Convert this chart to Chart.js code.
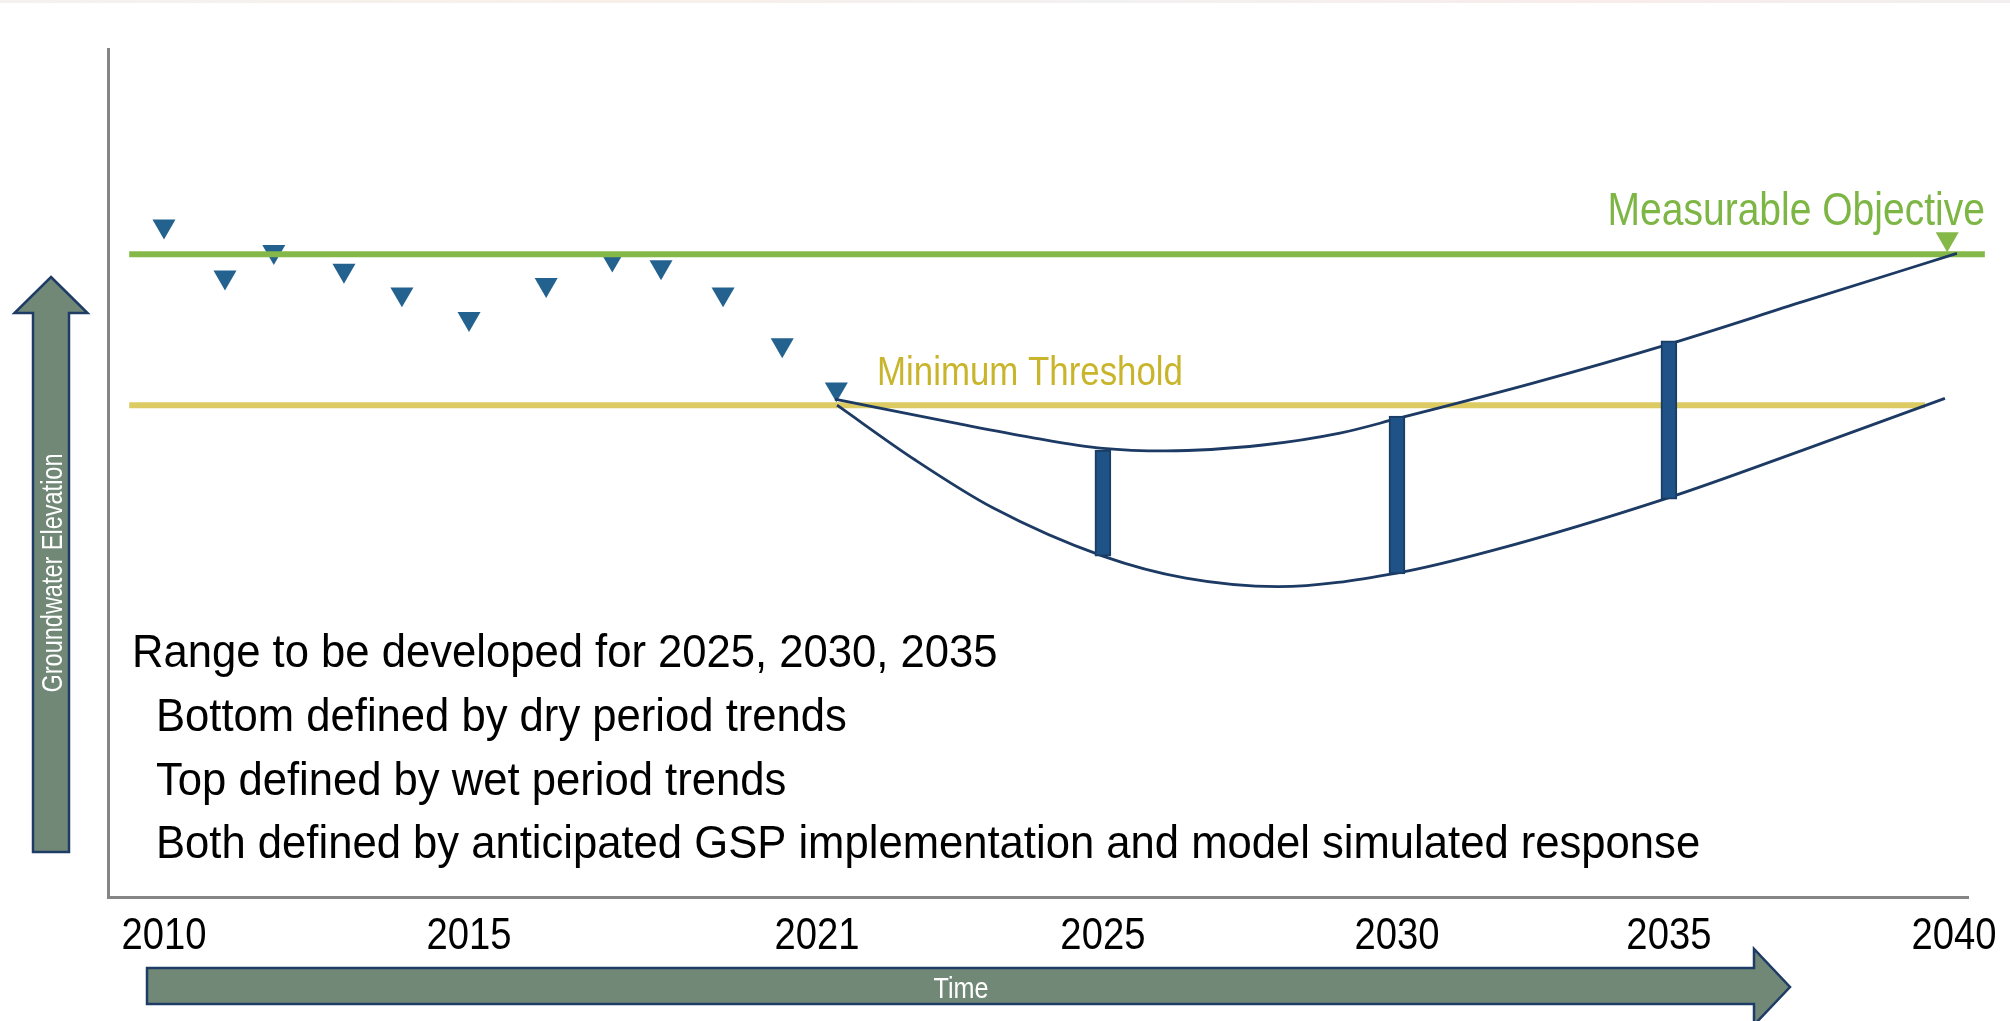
<!DOCTYPE html>
<html>
<head>
<meta charset="utf-8">
<title>Groundwater Elevation - Measurable Objective and Minimum Threshold</title>
<script src="https://cdn.jsdelivr.net/npm/chart.js@4.4.1/dist/chart.umd.min.js"></script>
<style>
  html, body { margin: 0; padding: 0; background: #fff; }
  body { width: 2010px; height: 1021px; overflow: hidden; position: relative; }
  #band { position: absolute; left: 0; top: 0; width: 2010px; height: 3px;
          background: linear-gradient(90deg, #f3f2f0, #f8efe9 30%, #f2f1f1 55%, #f8ecea 80%, #f1efef); }
  #wrap { position: absolute; left: 0; top: 0; width: 2010px; height: 1021px; }
</style>
</head>
<body>
<div id="wrap"><canvas id="chart"></canvas></div>
<div id="band"></div>
<script>
// x axis: tick years and where each sits along the time axis (fraction of plot width)
const tickYears = [2010, 2015, 2021, 2025, 2030, 2035, 2040];
const tickFrac  = [0.0301, 0.1941, 0.3812, 0.5349, 0.6930, 0.8392, 0.9925];

// observed groundwater levels (inverted triangles), 2010-2021
const obsYears  = [2010.0, 2011.0, 2011.8, 2012.95, 2013.9, 2015.0, 2016.33, 2017.47, 2018.31, 2019.38, 2020.4, 2021.27];
const obsLevels = [79.1, 73.1, 76.1, 73.9, 71.1, 68.2, 72.2, 75.2, 74.3, 71.1, 65.1, 59.9];

// top of range (wet period trend)
const wetYears  = [2021.25, 2022.92, 2023.99, 2025.0, 2026.07, 2027.72, 2029.03, 2030.0, 2032.5, 2035.0, 2037.35, 2040.05];
const wetLevels = [58.7, 55.9, 54.2, 52.9, 52.6, 53.3, 54.7, 56.4, 60.6, 65.2, 70.2, 75.9];

// bottom of range (dry period trend)
const dryYears  = [2021.28, 2022.38, 2023.46, 2025.0, 2026.41, 2027.98, 2030.0, 2031.78, 2035.0, 2037.35, 2039.84];
const dryLevels = [58.0, 51.5, 45.9, 40.2, 37.6, 36.6, 38.2, 40.9, 47.1, 52.7, 58.8];

// interim ranges
const rangeYears = [2025, 2030, 2035];
const rangeLow   = [40.2, 38.1, 46.9];
const rangeHigh  = [52.7, 56.7, 65.6];

// thresholds
const objectiveLevel = 75.8;
const objectiveSpan  = [2009.43, 2040.54];
const thresholdLevel = 58.0;
const thresholdSpan  = [2009.43, 2039.49];
const targetYear  = [2039.88];
const targetLevel = [77.6];

const notes = [
  'Range to be developed for 2025, 2030, 2035',
  'Bottom defined by dry period trends',
  'Top defined by wet period trends',
  'Both defined by anticipated GSP implementation and model simulated response'
];

const FONT = "'Liberation Sans', Arial, sans-serif";
const NAVY = '#1c3a63';
const TICK_SQUASH = 0.85;

// piecewise time axis: year -> fraction of plot width
function yearToFrac(v) {
  let i = 0;
  while (i < tickYears.length - 2 && v > tickYears[i + 1]) i++;
  const t = (v - tickYears[i]) / (tickYears[i + 1] - tickYears[i]);
  return tickFrac[i] + t * (tickFrac[i + 1] - tickFrac[i]);
}
function fracToYear(f) {
  let i = 0;
  while (i < tickFrac.length - 2 && f > tickFrac[i + 1]) i++;
  const t = (f - tickFrac[i]) / (tickFrac[i + 1] - tickFrac[i]);
  return tickYears[i] + t * (tickYears[i + 1] - tickYears[i]);
}

class TimelineScale extends Chart.LinearScale {
  getPixelForValue(value) {
    if (value === null || value === undefined || isNaN(value)) return NaN;
    return this.getPixelForDecimal(yearToFrac(value));
  }
  getValueForPixel(pixel) {
    return fracToYear(this.getDecimalForPixel(pixel));
  }
  // same labels as the base scale, drawn in a condensed face
  drawLabels(chartArea) {
    if (!this.options.ticks.display) return;
    const ctx = this.ctx;
    for (const item of this.getLabelItems(chartArea)) {
      const o = item.options;
      ctx.save();
      ctx.translate(o.translation[0], o.translation[1]);
      if (o.rotation) ctx.rotate(o.rotation);
      ctx.scale(TICK_SQUASH, 1);
      ctx.font = item.font.string;
      ctx.fillStyle = o.color;
      ctx.textAlign = o.textAlign;
      ctx.textBaseline = o.textBaseline;
      ctx.fillText(item.label, 0, item.textOffset);
      ctx.restore();
    }
  }
}
TimelineScale.id = 'timeline';
TimelineScale.defaults = Chart.LinearScale.defaults;
Chart.register(TimelineScale);

const pts = (xs, ys) => xs.map((x, i) => ({ x: x, y: ys[i] }));
const flat = (span, level) => span.map(x => ({ x: x, y: level }));

function squashText(ctx, text, x, y, size, squash, align, color) {
  ctx.save();
  ctx.translate(x, y);
  ctx.scale(squash, 1);
  ctx.font = size + 'px ' + FONT;
  ctx.fillStyle = color;
  ctx.textAlign = align;
  ctx.textBaseline = 'alphabetic';
  ctx.fillText(text, 0, 0);
  ctx.restore();
}

function arrow(ctx, p) {
  ctx.beginPath();
  p.forEach(([px, py], i) => i ? ctx.lineTo(px, py) : ctx.moveTo(px, py));
  ctx.closePath();
  ctx.fillStyle = '#718877';
  ctx.fill();
  ctx.lineWidth = 2.5;
  ctx.strokeStyle = '#1f3c66';
  ctx.stroke();
}

const decor = {
  id: 'decor',
  afterDraw(chart) {
    const { ctx, scales: { x, y } } = chart;
    ctx.save();

    // threshold labels
    squashText(ctx, 'Measurable Objective', x.getPixelForValue(objectiveSpan[1]),
               y.getPixelForValue(objectiveLevel) - 29, 47, 0.83, 'right', '#7db645');
    squashText(ctx, 'Minimum Threshold', 877, y.getPixelForValue(thresholdLevel) - 20,
               41, 0.85, 'left', '#c9b52c');

    // notes
    notes.forEach((t, i) => squashText(ctx, t, i === 0 ? 132 : 156, 667 + i * 63.8, 46, 0.948, 'left', '#000'));

    // vertical arrow
    arrow(ctx, [[51, 277], [87.5, 313], [69, 313], [69, 852], [33, 852], [33, 313], [14.5, 313]]);
    ctx.save();
    ctx.translate(61.5, 573);
    ctx.rotate(-Math.PI / 2);
    squashText(ctx, 'Groundwater Elevation', 0, 0, 29, 0.81, 'center', '#fff');
    ctx.restore();

    // horizontal arrow
    arrow(ctx, [[147, 968], [1754, 968], [1754, 949], [1790, 987], [1754, 1025], [1754, 1004], [147, 1004]]);
    squashText(ctx, 'Time', 961, 998, 30, 0.84, 'center', '#fff');

    ctx.restore();
  }
};

new Chart(document.getElementById('chart'), {
  type: 'line',
  data: {
    datasets: [
      {
        type: 'bar',
        label: 'Interim range',
        data: rangeYears.map((yr, i) => ({ x: yr, y: [rangeLow[i], rangeHigh[i]] })),
        backgroundColor: '#1f5286',
        borderColor: '#1a3d66',
        borderWidth: 2,
        borderSkipped: false,
        barThickness: 16,
        order: 0
      },
      {
        label: 'Wet period trend',
        data: pts(wetYears, wetLevels),
        borderColor: NAVY,
        borderWidth: 2.8,
        pointRadius: 0,
        cubicInterpolationMode: 'monotone',
        clip: false,
        order: 1
      },
      {
        label: 'Dry period trend',
        data: pts(dryYears, dryLevels),
        borderColor: NAVY,
        borderWidth: 2.8,
        pointRadius: 0,
        cubicInterpolationMode: 'monotone',
        clip: false,
        order: 1
      },
      {
        label: 'Target',
        data: pts(targetYear, targetLevel),
        showLine: false,
        pointStyle: 'triangle',
        rotation: 180,
        pointRadius: 13.3,
        pointBorderWidth: 0,
        pointBackgroundColor: '#84b848',
        clip: false,
        order: 1.5
      },
      {
        label: 'Measurable Objective',
        data: flat(objectiveSpan, objectiveLevel),
        borderColor: '#84b848',
        borderWidth: 6,
        pointRadius: 0,
        clip: false,
        order: 2
      },
      {
        label: 'Observed',
        data: pts(obsYears, obsLevels),
        showLine: false,
        pointStyle: 'triangle',
        rotation: 180,
        pointRadius: 13.3,
        pointBorderWidth: 0,
        pointBackgroundColor: '#23628f',
        clip: false,
        order: 3
      },
      {
        label: 'Minimum Threshold',
        data: flat(thresholdSpan, thresholdLevel),
        borderColor: '#dccb62',
        borderWidth: 6,
        pointRadius: 0,
        clip: false,
        order: 4
      }
    ]
  },
  plugins: [decor],
  options: {
    responsive: true,
    maintainAspectRatio: false,
    animation: false,
    events: [],
    layout: { padding: { left: 108, right: 42, top: 49, bottom: 0 } },
    plugins: { legend: { display: false }, tooltip: { enabled: false } },
    scales: {
      x: {
        type: 'timeline',
        min: 2009.08,
        max: 2040.25,
        offset: false,
        grid: { display: false, drawTicks: false },
        border: { display: true, color: '#858585', width: 3 },
        afterBuildTicks: s => { s.ticks = tickYears.map(v => ({ value: v })); },
        afterFit: s => { s.height = 124; s.paddingLeft = 0; s.paddingRight = 0; },
        ticks: {
          autoSkip: false,
          maxRotation: 0,
          padding: 13,
          color: '#000',
          font: { family: FONT, size: 45 },
          callback: v => String(v)
        }
      },
      y: {
        min: 0,
        max: 100,
        grid: { display: false, drawTicks: false },
        border: { display: true, color: '#858585', width: 3 },
        ticks: { display: false },
        afterFit: s => { s.width = 0; }
      }
    }
  }
});
</script>
</body>
</html>
